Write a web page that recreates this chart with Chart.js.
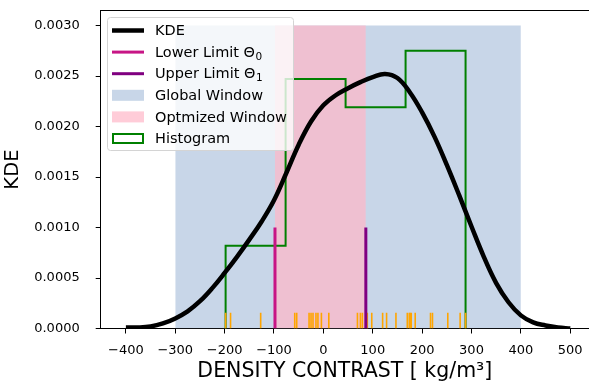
<!DOCTYPE html>
<html>
<head>
<meta charset="utf-8">
<title>KDE density contrast</title>
<script src="https://cdn.jsdelivr.net/npm/chart.js@4/dist/chart.umd.min.js"></script>
<style>
  html, body { margin: 0; padding: 0; background: #fff; }
  #wrap { width: 589px; height: 385px; }
</style>
</head>
<body>
<div id="wrap"><canvas id="kde-chart" width="589" height="385"></canvas></div>
<script>
'use strict';

// ---- Data ----
const kdeX = [-400, -375, -350, -325, -300, -275, -250, -225, -200, -175, -150, -125, -100, -75, -50, -25,
  0, 25, 50, 75, 100, 125, 150, 175, 200, 225, 250, 275, 300, 325, 350, 375, 400, 425, 450, 475, 500];
const kdeY = [0.00001, 0.00001, 0.00002, 0.00005, 0.00010, 0.00017, 0.00027, 0.00040, 0.00055, 0.00071,
  0.00088, 0.00106, 0.00127, 0.00154, 0.00182, 0.00205, 0.00221, 0.00231, 0.00238, 0.00244, 0.00249,
  0.00252, 0.00248, 0.00234, 0.00214, 0.00190, 0.00162, 0.00132, 0.00101, 0.00071, 0.00045, 0.00026,
  0.00013, 0.00006, 0.00003, 0.00001, 0.0];

const histEdges = [-198, -76.5, 45, 166.5, 288];
const histDensity = [0.00082, 0.00247, 0.00219, 0.00275];

const rugValues = [-198, -188, -127, -58, -54, -29, -25, -21, -15, -11, -4, 11, 69, 75, 79, 89, 98, 120,
  128, 147, 170, 174, 176, 178, 186, 217, 221, 252, 277, 288];

const lowerLimit = -98;
const upperLimit = 86;
const limitHeight = 0.001;
const globalWindow = [-300, 400];
const optimizedWindow = [lowerLimit, upperLimit];
const windowHeight = 0.003;

const xTicks = [-400, -300, -200, -100, 0, 100, 200, 300, 400, 500];
const yTicks = [0, 0.0005, 0.001, 0.0015, 0.002, 0.0025, 0.003];

const FONT = "'DejaVu Sans', 'Liberation Sans', sans-serif";

// ---- Build datasets ----
// outline of the histogram: up the first edge, across each bin, down the last edge
function histSteps() {
  const pts = [{ x: histEdges[0], y: 0 }];
  for (let i = 0; i < histDensity.length; i++) {
    pts.push({ x: histEdges[i], y: histDensity[i] });
  }
  pts.push({ x: histEdges[histEdges.length - 1], y: histDensity[histDensity.length - 1] });
  pts.push({ x: histEdges[histEdges.length - 1], y: 0 });
  return pts;
}

const datasets = [
  {
    label: 'KDE', kind: 'line', order: 0,
    data: kdeX.map((x, i) => ({ x, y: kdeY[i] })),
    borderColor: '#000', borderWidth: 4.5, pointRadius: 0,
    tension: 0.4
  },
  {
    label: 'Lower Limit \u0398\u2080', kind: 'line', order: 1,
    data: [{ x: lowerLimit, y: 0 }, { x: lowerLimit, y: limitHeight }],
    borderColor: '#c71585', borderWidth: 3, pointRadius: 0
  },
  {
    label: 'Upper Limit \u0398\u2081', kind: 'line', order: 2,
    data: [{ x: upperLimit, y: 0 }, { x: upperLimit, y: limitHeight }],
    borderColor: '#800080', borderWidth: 3, pointRadius: 0
  },
  {
    label: 'Global Window', kind: 'patch', order: 6,
    data: globalWindow.map(x => ({ x, y: windowHeight })),
    fill: 'origin', backgroundColor: 'rgba(176,196,222,0.7)',
    borderWidth: 0, pointRadius: 0
  },
  {
    label: 'Optmized Window', kind: 'patch', order: 5,
    data: optimizedWindow.map(x => ({ x, y: windowHeight })),
    fill: 'origin', backgroundColor: 'rgba(255,182,200,0.7)',
    borderWidth: 0, pointRadius: 0
  },
  {
    label: 'Histogram', kind: 'outline', order: 4,
    data: histSteps(), stepped: 'before',
    borderColor: '#008000', borderWidth: 2, pointRadius: 0
  },
  {
    // rug of the samples along the x axis
    type: 'scatter', order: 3,
    data: rugValues.map(x => ({ x, y: 0.000078 })),
    pointStyle: 'line', rotation: 90, pointRadius: 7.8,
    borderColor: '#ffa500', borderWidth: 1.6
  }
];

// ---- Legend box drawn inside the axes ----
const SUBS = { '\u2080': '0', '\u2081': '1' };

function drawLabel(ctx, text, x, y) {
  const last = text.slice(-1);
  if (!SUBS[last]) {
    ctx.fillText(text, x, y);
    return;
  }
  const base = text.slice(0, -1);
  ctx.fillText(base, x, y);
  const w = ctx.measureText(base).width;
  ctx.save();
  ctx.font = '10.5px ' + FONT;
  ctx.fillText(SUBS[last], x + w + 0.5, y + 4);
  ctx.restore();
}

const boxLegend = {
  id: 'boxLegend',
  afterDraw(chart) {
    const ctx = chart.ctx;
    const items = chart.data.datasets.filter(d => d.label);
    const x0 = 107.5, y0 = 17.5, w = 186, h = 133, rowH = 21.6, firstY = 30.5;
    ctx.save();
    ctx.beginPath();
    ctx.roundRect(x0, y0, w, h, 3);
    ctx.fillStyle = 'rgba(255,255,255,0.8)';
    ctx.fill();
    ctx.strokeStyle = '#d4d4d4';
    ctx.lineWidth = 1;
    ctx.stroke();

    ctx.font = '14.5px ' + FONT;
    ctx.textBaseline = 'middle';
    items.forEach((d, i) => {
      const cy = firstY + i * rowH;
      if (d.kind === 'line') {
        ctx.beginPath();
        ctx.moveTo(112, cy);
        ctx.lineTo(144, cy);
        ctx.strokeStyle = d.borderColor;
        ctx.lineWidth = d.borderWidth;
        ctx.stroke();
      } else if (d.kind === 'patch') {
        ctx.fillStyle = d.backgroundColor;
        ctx.fillRect(112, cy - 5.5, 32, 11);
      } else {
        ctx.fillStyle = '#fff';
        ctx.fillRect(113, cy - 4.5, 30, 9);
        ctx.strokeStyle = d.borderColor;
        ctx.lineWidth = 2;
        ctx.strokeRect(113, cy - 4.5, 30, 9);
      }
      ctx.fillStyle = '#000';
      drawLabel(ctx, d.label, 155, cy + 1);
    });
    ctx.restore();
  }
};

// ---- Chart ----
function zeroPad(scale) {
  scale.paddingLeft = 0;
  scale.paddingRight = 0;
  scale.paddingTop = 0;
  scale.paddingBottom = 0;
}

const tickFont = { family: FONT, size: 13 };
const titleFont = { family: FONT, size: 20.5 };

new Chart(document.getElementById('kde-chart'), {
  type: 'line',
  data: { datasets },
  plugins: [boxLegend],
  options: {
    responsive: false,
    animation: false,
    events: [],
    layout: { padding: 0, autoPadding: false },
    plugins: { legend: { display: false }, tooltip: { enabled: false } },
    scales: {
      x: {
        type: 'linear', position: 'bottom', min: -451, max: 538,
        afterBuildTicks: s => { s.ticks = xTicks.map(v => ({ value: v })); },
        afterFit: s => { s.height = 56.5; zeroPad(s); },
        ticks: {
          font: tickFont, color: '#000', padding: 9, maxRotation: 0,
          callback: v => String(v).replace('-', '\u2212')
        },
        grid: { drawOnChartArea: false, drawTicks: true, tickLength: 5, color: '#000' },
        border: { color: '#000', width: 1 },
        title: {
          display: true, text: 'DENSITY CONTRAST [ kg/m\u00b3]',
          font: titleFont, color: '#000', padding: { top: 0, bottom: 1.5 }
        }
      },
      xTop: {
        type: 'linear', position: 'top', min: -451, max: 538,
        afterFit: s => { s.height = 10.7; zeroPad(s); },
        ticks: { display: false },
        grid: { drawOnChartArea: false, drawTicks: false },
        border: { color: '#000', width: 1 }
      },
      y: {
        type: 'linear', position: 'left', min: 0, max: 0.003147,
        afterBuildTicks: s => { s.ticks = yTicks.map(v => ({ value: v })); },
        afterFit: s => { s.width = 100.7; zeroPad(s); },
        ticks: { font: tickFont, color: '#000', padding: 16, callback: v => v.toFixed(4) },
        grid: { drawOnChartArea: false, drawTicks: true, tickLength: 5, color: '#000' },
        border: { color: '#000', width: 1 },
        title: {
          display: true, text: 'KDE',
          font: { family: FONT, size: 19.5 }, color: '#000', padding: { top: 1, bottom: 0 }
        }
      }
    }
  }
});
</script>
</body>
</html>
